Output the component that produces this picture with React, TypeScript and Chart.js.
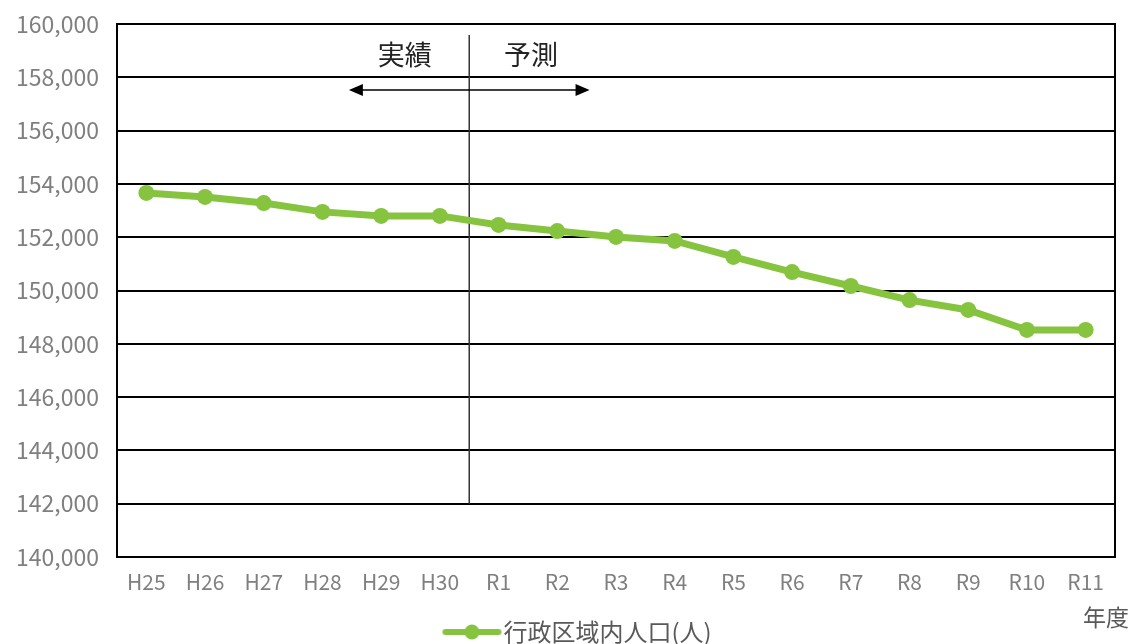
import React, { useEffect, useRef } from "react";
import { Chart, registerables } from "chart.js";

Chart.register(...registerables);

const categories = ["H25", "H26", "H27", "H28", "H29", "H30", "R1", "R2", "R3", "R4", "R5", "R6", "R7", "R8", "R9", "R10", "R11"];
const population = [153660, 153510, 153280, 152950, 152800, 152800, 152460, 152230, 152010, 151860, 151260, 150690, 150170, 149640, 149270, 148520, 148520];
const seriesLabel = "行政区域内人口(人)";
const periodLabels = ["実績", "予測"];
const xAxisTitle = "年度";
const yMin = 140000;
const yMax = 160000;
const yStep = 2000;
const dividerAfterIndex = 5; // between H30 and R1

const GREEN = "#86C440";
const FONT = "'Noto Sans CJK JP', 'Noto Sans', sans-serif";

function makeLegendImage(): HTMLCanvasElement {
  const c = document.createElement("canvas");
  c.width = 110;
  c.height = 18;
  const g = c.getContext("2d")!;
  g.strokeStyle = GREEN;
  g.lineWidth = 6;
  g.lineCap = "round";
  g.beginPath();
  g.moveTo(53, 9);
  g.lineTo(106, 9);
  g.stroke();
  g.fillStyle = GREEN;
  g.beginPath();
  g.arc(79.5, 9, 7.5, 0, Math.PI * 2);
  g.fill();
  return c;
}

const annotationPlugin = {
  id: "periodAnnotation",
  beforeDatasetsDraw(chart: any) {
    const { ctx, chartArea, scales } = chart;
    const x = scales.x;
    const y = scales.y;
    ctx.save();
    // frame
    ctx.strokeStyle = "#000";
    ctx.lineWidth = 2;
    ctx.strokeRect(chartArea.left, chartArea.top, chartArea.right - chartArea.left, chartArea.bottom - chartArea.top);

    const step = x.getPixelForValue(1) - x.getPixelForValue(0);
    const dx = (x.getPixelForValue(dividerAfterIndex) + x.getPixelForValue(dividerAfterIndex + 1)) / 2;

    // divider line
    ctx.strokeStyle = "#333";
    ctx.lineWidth = 1.5;
    ctx.beginPath();
    ctx.moveTo(dx, y.getPixelForValue(159590));
    ctx.lineTo(dx, y.getPixelForValue(142000));
    ctx.stroke();

    // arrow
    const ay = y.getPixelForValue(157520);
    const ax1 = dx - 2.05 * step;
    const ax2 = dx + 2.05 * step;
    ctx.strokeStyle = "#000";
    ctx.lineWidth = 1.5;
    ctx.beginPath();
    ctx.moveTo(ax1 + 10, ay);
    ctx.lineTo(ax2 - 10, ay);
    ctx.stroke();
    ctx.fillStyle = "#000";
    ctx.beginPath();
    ctx.moveTo(ax1, ay);
    ctx.lineTo(ax1 + 14, ay - 6);
    ctx.lineTo(ax1 + 14, ay + 6);
    ctx.closePath();
    ctx.fill();
    ctx.beginPath();
    ctx.moveTo(ax2, ay);
    ctx.lineTo(ax2 - 14, ay - 6);
    ctx.lineTo(ax2 - 14, ay + 6);
    ctx.closePath();
    ctx.fill();

    // labels
    ctx.font = `27px ${FONT}`;
    ctx.fillStyle = "#222";
    ctx.textAlign = "center";
    ctx.textBaseline = "middle";
    const ty = y.getPixelForValue(158850);
    ctx.fillText(periodLabels[0], dx - 1.1 * step, ty);
    ctx.fillText(periodLabels[1], dx + 1.05 * step, ty);

    // x axis title
    ctx.font = `23px ${FONT}`;
    ctx.fillStyle = "#595959";
    ctx.textAlign = "right";
    ctx.fillText(xAxisTitle, chartArea.right + 14, chartArea.bottom + 60);
    ctx.restore();
  },
};

export default function App() {
  const ref = useRef<HTMLCanvasElement | null>(null);
  useEffect(() => {
    if (!ref.current) return;
    const legendImg = makeLegendImage();
    const chart = new Chart(ref.current, {
      type: "line",
      data: {
        labels: categories,
        datasets: [
          {
            label: seriesLabel,
            data: population,
            borderColor: GREEN,
            backgroundColor: GREEN,
            borderWidth: 7,
            pointRadius: 8,
            pointHoverRadius: 8,
            pointBackgroundColor: GREEN,
            pointBorderWidth: 0,
            tension: 0,
          },
        ],
      },
      options: {
        responsive: false,
        animation: false,
        layout: { padding: { top: 24, right: 16, left: 0, bottom: -10 } },
        scales: {
          x: {
            offset: true,
            grid: { display: false },
            border: { display: false },
            ticks: { color: "#7f7f7f", font: { family: FONT, size: 21 }, padding: 4, maxRotation: 0, autoSkip: false },
            afterFit(scale: any) {
              scale.height = 57;
            },
          },
          y: {
            min: yMin,
            max: yMax,
            grid: { color: "#000", lineWidth: 2, drawTicks: false },
            border: { display: true, color: "#000", width: 2 },
            ticks: {
              stepSize: yStep,
              color: "#7f7f7f",
              padding: 18,
              font: { family: FONT, size: 23 },
              callback: (v: any) => Number(v).toLocaleString("en-US"),
            },
            afterFit(scale: any) {
              scale.width = 117;
              scale.paddingTop = 0;
              scale.paddingBottom = 0;
            },
          },
        },
        plugins: {
          legend: {
            position: "bottom",
            labels: {
              usePointStyle: true,
              pointStyle: legendImg as any,
              pointStyleWidth: 88,
              boxWidth: 88,
              boxHeight: 18,
              padding: 6,
              color: "#595959",
              font: { family: FONT, size: 24 },
            },
          },
          tooltip: { enabled: false },
        },
      },
      plugins: [annotationPlugin],
    });
    return () => chart.destroy();
  }, []);
  return (
    <div style={{ position: "absolute", left: 0, top: 0, width: 1131, height: 644, background: "#fff" }}>
      <canvas ref={ref} width={1131} height={644} style={{ display: "block" }} />
    </div>
  );
}
